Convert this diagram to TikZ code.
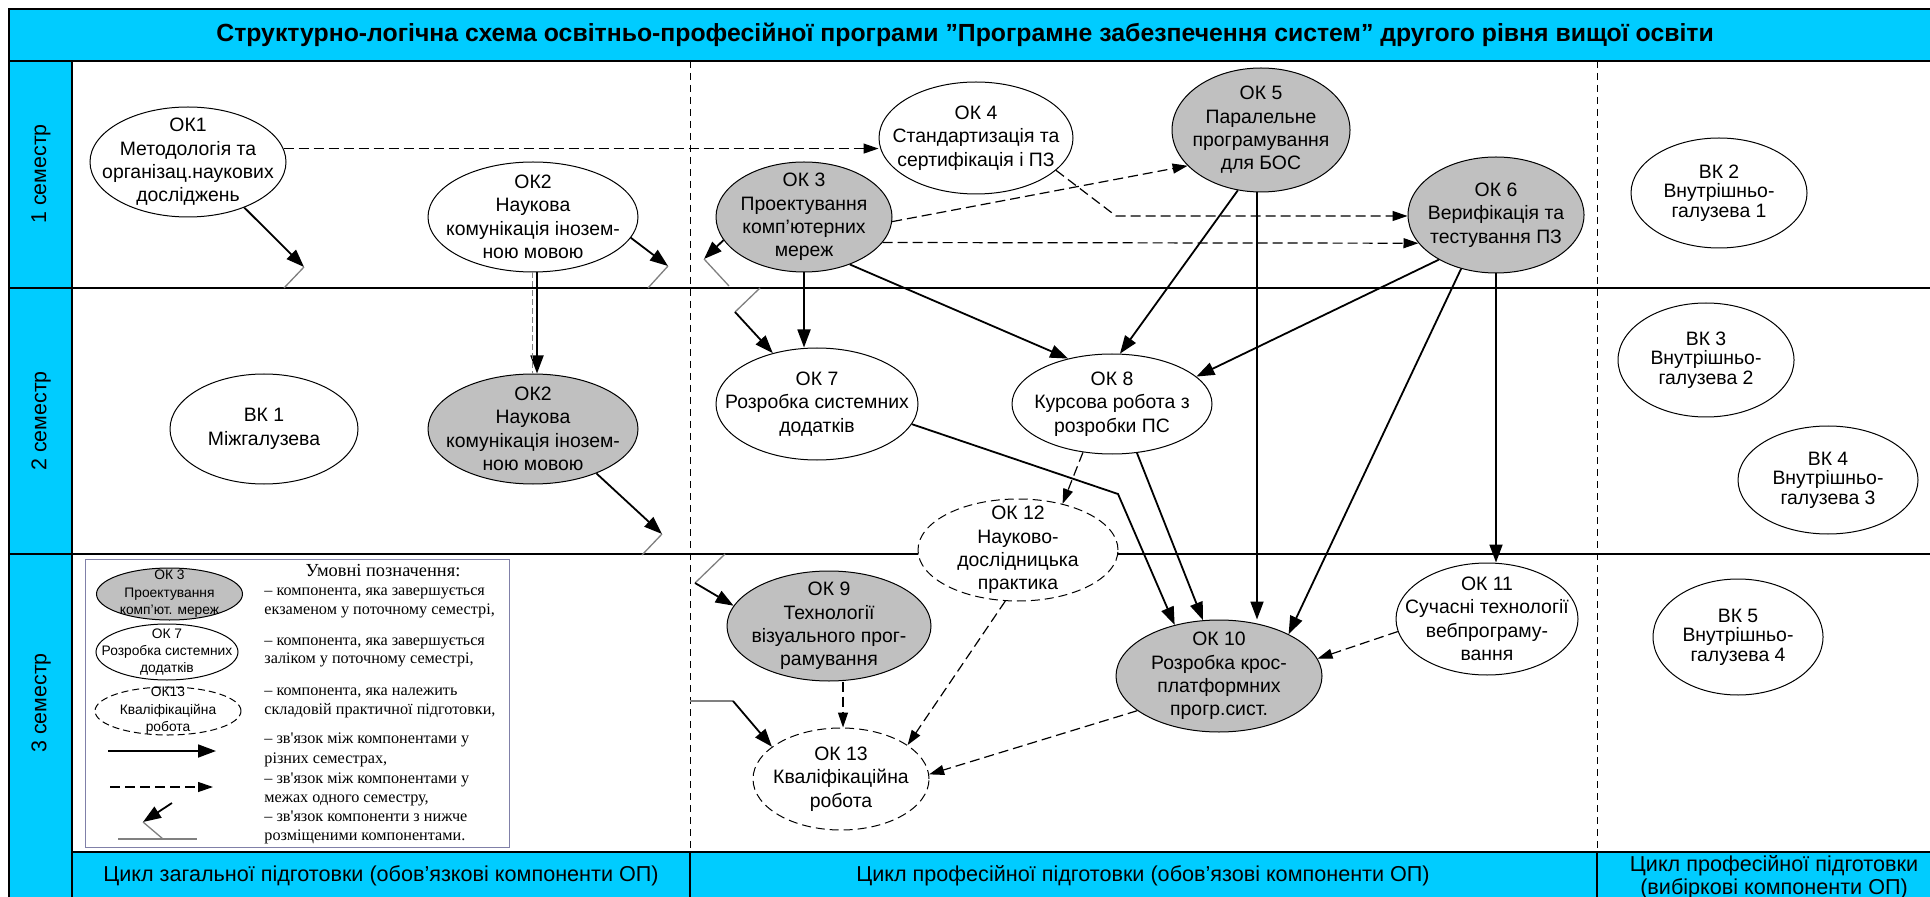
\documentclass[tikz,border=0pt]{standalone}
\usepackage{fontspec}
\setmainfont{Liberation Sans}
\newfontfamily\legfont{Liberation Serif}
\usetikzlibrary{shapes.geometric,arrows.meta,calc}
\definecolor{barblue}{HTML}{00CCFF}
\definecolor{ellgray}{HTML}{C0C0C0}
\definecolor{brkgray}{HTML}{808080}
\definecolor{legframe}{HTML}{8080A8}
\begin{document}
\begin{tikzpicture}[x=0.5pt,y=-0.5pt,
  okbase/.style={ellipse, draw, line width=0.5pt, inner xsep=-40pt, inner ysep=-30pt, align=center, font=\fontsize{9.7}{11.7}\selectfont},
  exam/.style={okbase, fill=ellgray},
  credit/.style={okbase, fill=white},
  prac/.style={okbase, fill=white, dash pattern=on 4.5pt off 2.5pt},
  vk/.style={credit, font=\fontsize{9.7}{9.8}\selectfont},
  sz/.style 2 args={minimum width=#1pt, minimum height=#2pt},
  solidarr/.style={line width=0.9pt, -{Triangle[length=9pt,width=6.5pt]}},
  dasharr/.style={line width=0.6pt, dash pattern=on 5pt off 2.5pt, -{Triangle[length=7.5pt,width=5pt]}},
  brk/.style={brkgray, line width=0.65pt},
  sep/.style={line width=0.4pt, dash pattern=on 3.5pt off 2.5pt},
  semlab/.style={rotate=90, font=\fontsize{10.7}{12}\selectfont},
  cyc/.style={font=\fontsize{10.8}{11.5}\selectfont, align=center},
  legtxt/.style={anchor=base west, inner sep=0pt, font=\legfont\fontsize{8.1}{9.5}\selectfont},
  legell/.style={font=\fontsize{6.9}{8.7}\selectfont},
]
\useasboundingbox (0,0) rectangle (1930,897);
\clip (0,0) rectangle (1930,897);
\fill[white] (0,0) rectangle (1930,897);
% frame and bars
\fill[barblue] (9,9) rectangle (1950,61);
\fill[barblue] (9,61) rectangle (72,897);
\fill[barblue] (72,852) rectangle (1950,897);
\draw[line width=1pt] (9,9) rectangle (1950,61);
\draw[line width=0.6pt] (9,61) -- (9,897);
\draw[line width=0.6pt] (72,61) -- (72,897);
\draw[line width=0.6pt] (9,288) -- (1950,288);
\draw[line width=0.6pt] (9,554) -- (1950,554);
\draw[line width=0.8pt] (72,852) -- (1950,852);
\draw[line width=0.6pt] (690,852) -- (690,897);
\draw[line width=0.6pt] (1597,852) -- (1597,897);
\draw[sep] (690,61) -- (690,852);
\draw[sep] (1597,61) -- (1597,852);
% texts of frame
\node[font=\bfseries\fontsize{12.4}{14}\selectfont] (title) at (965,35) {Структурно-логічна схема освітньо-професійної програми ”Програмне забезпечення систем” другого рівня вищої освіти};
\node[semlab] (s1) at (41,174) {1 семестр};
\node[semlab] (s2) at (41,421) {2 семестр};
\node[semlab] (s3) at (41,703) {3 семестр};
\node[cyc] (c1) at (381,876) {Цикл загальної підготовки (обов’язкові компоненти ОП)};
\node[cyc] (c2) at (1143,876) {Цикл професійної підготовки (обов’язові компоненти ОП)};
\node[cyc] (c3) at (1774,877) {Цикл професійної підготовки\\(вибіркові компоненти ОП)};
% components
\node[credit, sz={98}{55}] (OK1) at (188,162) {ОК1\\Методологія та\\організац.наукових\\досліджень};
\node[credit, sz={105}{55}] (OK2a) at (533,217) {ОК2\\Наукова\\комунікація інозем-\\ною мовою};
\node[exam, sz={105}{55}] (OK2b) at (533,429) {ОК2\\Наукова\\комунікація інозем-\\ною мовою};
\node[credit, sz={94}{55}] (BK1) at (264,429) {ВК 1\\Міжгалузева};
\node[exam, sz={88}{55}] (OK3) at (804,217) {ОК 3\\Проектування\\комп’ютерних\\мереж};
\node[credit, sz={97}{56}] (OK4) at (976,138) {ОК 4\\Стандартизація та\\сертифікація і ПЗ};
\node[exam, sz={89}{62}] (OK5) at (1261,130) {ОК 5\\Паралельне\\програмування\\для БОС};
\node[exam, sz={88}{58}] (OK6) at (1496,215) {ОК 6\\Верифікація та\\тестування ПЗ};
\node[vk, sz={88}{55}] (BK2) at (1719,193) {ВК 2\\Внутрішньо-\\галузева 1};
\node[vk, sz={88}{57}] (BK3) at (1706,360) {ВК 3\\Внутрішньо-\\галузева 2};
\node[vk, sz={90}{54}] (BK4) at (1828,480) {ВК 4\\Внутрішньо-\\галузева 3};
\node[vk, sz={85}{58}] (BK5) at (1738,637) {ВК 5\\Внутрішньо-\\галузева 4};
\node[credit, sz={101}{56}] (OK7) at (817,404) {ОК 7\\Розробка системних\\додатків};
\node[credit, sz={100}{50}] (OK8) at (1112,404) {ОК 8\\Курсова робота з\\розробки ПС};
\node[prac, sz={100}{51}] (OK12) at (1018,550) {ОК 12\\Науково-\\дослідницька\\практика};
\node[exam, sz={102}{55}] (OK9) at (829,626) {ОК 9\\Технології\\візуального прог-\\рамування};
\node[prac, sz={88}{51}] (OK13) at (841,779) {ОК 13\\Кваліфікаційна\\робота};
\node[exam, sz={103}{56}] (OK10) at (1219,676) {ОК 10\\Розробка крос-\\платформних\\прогр.сист.};
\node[credit, sz={91}{56}] (OK11) at (1487,619) {ОК 11\\Сучасні технології\\вебпрограму-\\вання};
% break points
\coordinate (b1) at (304,267); \coordinate (b1g) at (284,288);
\coordinate (b2) at (668,266); \coordinate (b2g) at (648,288);
\coordinate (b3) at (704,259); \coordinate (b3g) at (729,286);
\coordinate (b4) at (662,534); \coordinate (b4g) at (642,555);
\coordinate (b7g) at (760,288); \coordinate (b7) at (735,312);
\coordinate (b9g) at (725,554); \coordinate (b9) at (695,583);
\coordinate (b13g) at (690,701); \coordinate (b13) at (733,701);
\coordinate (k1) at (1116,216);
\coordinate (k2) at (1118,494);
% connectors
\draw[dasharr] (OK1.8) -- (OK1.8 -| OK4.west);
\draw[solidarr] (OK1.-39.6) -- (b1); \draw[brk] (b1) -- (b1g);
\draw[solidarr] (OK2a.-12) -- (b2); \draw[brk] (b2) -- (b2g);
\draw[solidarr] ([xshift=2pt]OK2a.south) -- ([xshift=2pt]OK2b.north);
\draw[brkgray, line width=0.5pt, dash pattern=on 3pt off 1.5pt] ([xshift=-0.5pt]OK2a.south) -- ([xshift=-0.5pt]OK2b.north);
\draw[solidarr] (OK3.196) -- (b3); \draw[brk] (b3) -- (b3g);
\draw[dasharr] (OK3.-3.3) -- (OK5.206.3);
\draw[dasharr] (OK4.-22.5) -- (k1) -- (k1 -| OK6.west);
\draw[dasharr] (OK3.-18.5) -- (OK6.200.9);
\draw[solidarr] (OK3.south) -- (OK3.south |- OK7.north);
\draw[solidarr] (OK3.-46.8) -- (OK8.134.4);
\draw[solidarr] (OK5.249.6) -- (OK8.81.3);
\draw[solidarr] ([xshift=-2pt]OK5.south) -- ([xshift=-2pt]OK5.south |- OK10.north);
\draw[solidarr] (OK6.218.8) -- (OK8.18.8);
\draw[solidarr] (OK6.237) -- (OK10.31.2);
\draw[solidarr] (OK6.south) -- (OK6.south |- OK11.north);
\draw[solidarr] (OK7.-12) -- (k2) -- (OK10.131.6);
\draw[solidarr] (OK8.-63) -- (OK10.106);
\draw[dasharr] (OK8.239.4) -- (OK12.46.2);
\draw[dasharr] (OK12.256) -- (OK13.27.2);
\draw[dasharr] ([xshift=7pt]OK9.south) -- ([xshift=1pt]OK13.north);
\draw[dasharr] (OK10.203.1) -- (OK13.3.8);
\draw[dasharr] (OK11.188.8) -- (OK10.10);
\draw[brk] (b7g) -- (b7); \draw[solidarr] (b7) -- (OK7.131.6);
\draw[brk] (b9g) -- (b9); \draw[solidarr] (b9) -- (OK9.168.8);
\draw[brk] (b13g) -- (b13); \draw[solidarr] (b13) -- (OK13.155.7);
\draw[solidarr] (OK2b.-35.1) -- (b4); \draw[brk] (b4) -- (b4g);
% legend
\node[draw=legframe, fill=white, line width=0.5pt, anchor=north west, inner sep=0pt, minimum width=212pt, minimum height=144pt] (leg) at (85,559) {};
\node[exam, legell, sz={73}{26}] (L1) at (169.5,594) {ОК 3\\Проектування\\комп'ют. мереж};
\node[credit, legell, sz={71}{28}] (L2) at (167,652) {ОК 7\\Розробка системних\\додатків};
\node[prac, legell, sz={73}{24}, dash pattern=on 3.5pt off 2pt] (L3) at (168,711) {ОК13\\Кваліфікаційна\\робота};
\coordinate (la1) at (108,751); \coordinate (la2) at (216,751);
\coordinate (lb1) at (110,787); \coordinate (lb2) at (213,787);
\coordinate (lc1) at (172,803); \coordinate (lc2) at (143,822); \coordinate (lc3) at (163,839);
\coordinate (lc4) at (118,839); \coordinate (lc5) at (197,839);
\draw[solidarr] (la1) -- (la2);
\draw[dasharr] (lb1) -- (lb2);
\draw[solidarr] (lc1) -- (lc2); \draw[brk] (lc2) -- (lc3); \draw[brk] (lc4) -- (lc5);
\node[anchor=base, inner sep=0pt, font=\legfont\fontsize{9.2}{11}\selectfont] (lh) at (383,576) {Умовні позначення:};
\node[legtxt] (t1) at (264,595.5) {– компонента, яка завершується};
\node[legtxt] (t2) at (264,614.5) {екзаменом у поточному семестрі,};
\node[legtxt] (t3) at (264,645.5) {– компонента, яка завершується};
\node[legtxt] (t4) at (264,663.5) {заліком у поточному семестрі,};
\node[legtxt] (t5) at (264,695.5) {– компонента, яка належить};
\node[legtxt] (t6) at (264,714.5) {складовій практичної підготовки,};
\node[legtxt] (t7) at (264,743.5) {– зв'язок між компонентами у};
\node[legtxt] (t8) at (264,763.5) {різних семестрах,};
\node[legtxt] (t9) at (264,783.5) {– зв'язок між компонентами у};
\node[legtxt] (t10) at (264,802.5) {межах одного семестру,};
\node[legtxt] (t11) at (264,821.5) {– зв'язок компоненти з нижче};
\node[legtxt] (t12) at (264,840.5) {розміщеними компонентами.};
\end{tikzpicture}
\end{document}
